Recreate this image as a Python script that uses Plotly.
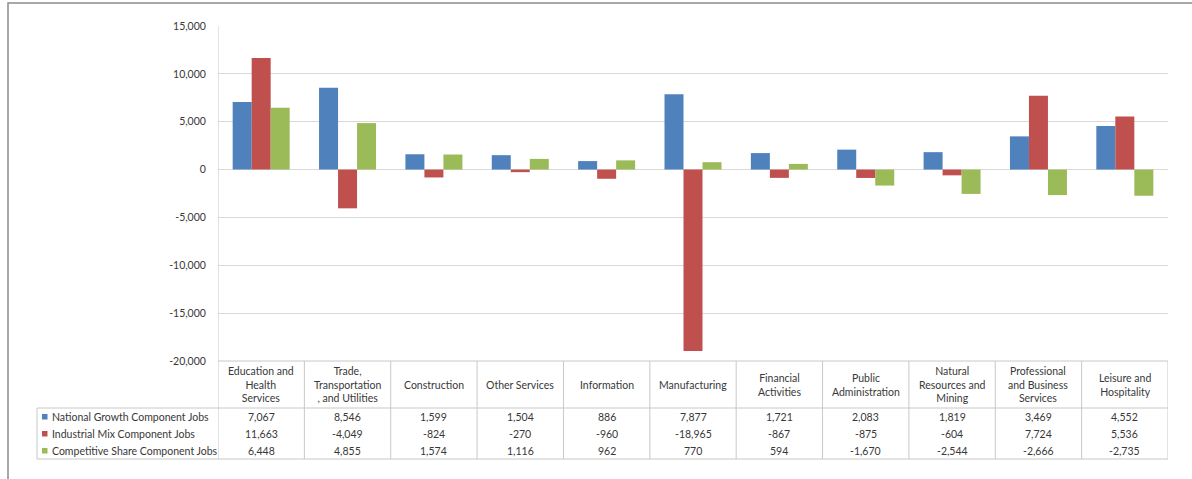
import plotly.graph_objects as go

# Shift-share components of job change by industry
industries = [
    "Education and<br>Health<br>Services",
    "Trade,<br>Transportation<br>, and Utilities",
    "Construction",
    "Other Services",
    "Information",
    "Manufacturing",
    "Financial<br>Activities",
    "Public<br>Administration",
    "Natural<br>Resources and<br>Mining",
    "Professional<br>and Business<br>Services",
    "Leisure and<br>Hospitality",
]
national_growth = [7067, 8546, 1599, 1504, 886, 7877, 1721, 2083, 1819, 3469, 4552]
industrial_mix = [11663, -4049, -824, -270, -960, -18965, -867, -875, -604, 7724, 5536]
competitive_share = [6448, 4855, 1574, 1116, 962, 770, 594, -1670, -2544, -2666, -2735]

series_names = [
    "National Growth Component Jobs",
    "Industrial Mix Component Jobs",
    "Competitive Share Component Jobs",
]
series_values = [national_growth, industrial_mix, competitive_share]
series_colors = ["#4F81BD", "#C0504D", "#9BBB59"]

y_ticks = [15000, 10000, 5000, 0, -5000, -10000, -15000, -20000]

W, H = 1192, 479
FONT = "Lato"
TEXT = "#383838"
LINE = "#c8c8c8"

def px_x(p):
    return p / W

def px_y(p):
    return 1 - p / H

# plot area in pixels
PL, PR, PT, PB = 218, 1168, 26, 361
TABLE_HEAD_BOTTOM = 408
TABLE_BOTTOM = 459
LEGEND_LEFT = 37
ROW_CENTERS = [416.5, 433.5, 450.5]

keys = list(range(len(industries)))

fig = go.Figure()
for name, vals, col in zip(series_names, series_values, series_colors):
    fig.add_trace(go.Bar(x=keys, y=vals, name=name, marker=dict(color=col, line=dict(width=0))))

shapes = []
annotations = []

# outer chart frame (runs off the right and bottom edges)
shapes.append(dict(type="rect", xref="paper", yref="paper",
                   x0=px_x(8), x1=px_x(1200), y0=px_y(490), y1=px_y(3),
                   line=dict(color="#8c8c8c", width=1.5), fillcolor="rgba(0,0,0,0)"))

# data table: vertical separators between categories
for k in range(len(industries) + 1):
    shapes.append(dict(type="line", xref="x", yref="paper",
                       x0=k - 0.5, x1=k - 0.5, y0=px_y(TABLE_BOTTOM), y1=px_y(PB),
                       line=dict(color=LINE, width=1)))
# left axis line up through the plot
shapes.append(dict(type="line", xref="x", yref="paper", x0=-0.5, x1=-0.5,
                   y0=px_y(PB), y1=px_y(PT), line=dict(color=LINE, width=1)))
# horizontal table lines
shapes.append(dict(type="line", xref="x", yref="paper", x0=-0.5, x1=len(industries) - 0.5,
                   y0=px_y(PB), y1=px_y(PB), line=dict(color=LINE, width=1)))
for yy in (TABLE_HEAD_BOTTOM, TABLE_BOTTOM):
    shapes.append(dict(type="line", xref="paper", yref="paper", x0=px_x(LEGEND_LEFT), x1=px_x(PR),
                       y0=px_y(yy), y1=px_y(yy), line=dict(color=LINE, width=1)))
shapes.append(dict(type="line", xref="paper", yref="paper", x0=px_x(LEGEND_LEFT), x1=px_x(LEGEND_LEFT),
                   y0=px_y(TABLE_BOTTOM), y1=px_y(TABLE_HEAD_BOTTOM), line=dict(color=LINE, width=1)))

# category header cells
for k, label in enumerate(industries):
    annotations.append(dict(x=k, y=px_y((PB + TABLE_HEAD_BOTTOM) / 2), xref="x", yref="paper",
                            text=label, showarrow=False, xanchor="center", yanchor="middle",
                            align="center", font=dict(family=FONT, size=10.5, color=TEXT)))

# legend keys, series names and values
for r, (name, vals, col) in enumerate(zip(series_names, series_values, series_colors)):
    yc = ROW_CENTERS[r]
    shapes.append(dict(type="rect", xref="paper", yref="paper",
                       x0=px_x(42), x1=px_x(47.5), y0=px_y(yc + 3), y1=px_y(yc - 2.5),
                       fillcolor=col, line=dict(width=0)))
    annotations.append(dict(x=px_x(49.5), y=px_y(yc), xref="paper", yref="paper", text=name,
                            showarrow=False, xanchor="left", yanchor="middle",
                            font=dict(family=FONT, size=10.5, color=TEXT)))
    for k, v in enumerate(vals):
        annotations.append(dict(x=k, y=px_y(yc), xref="x", yref="paper", text=f"{v:,}",
                                showarrow=False, xanchor="center", yanchor="middle",
                                font=dict(family=FONT, size=10.5, color=TEXT)))

fig.update_layout(
    width=W, height=H,
    margin=dict(l=0, r=0, t=0, b=0, autoexpand=False),
    paper_bgcolor="white", plot_bgcolor="white",
    barmode="group", bargap=0.34, bargroupgap=0,
    showlegend=False,
    font=dict(family=FONT, size=10.5, color=TEXT),
    xaxis=dict(domain=[px_x(PL), px_x(PR)], range=[-0.5, len(industries) - 0.5],
               automargin=False,
               showticklabels=False, showgrid=False, zeroline=False, showline=False, ticks=""),
    yaxis=dict(domain=[px_y(PB), px_y(PT)], range=[-20000, 15000],
               automargin=False,
               tickvals=y_ticks, ticktext=[f"{t:,}" for t in y_ticks],
               showgrid=True, gridcolor="#d9d9d9", gridwidth=1,
               zeroline=True, zerolinecolor="#d9d9d9", zerolinewidth=1,
               showline=False, ticks="outside", ticklen=9, tickcolor="rgba(0,0,0,0)",
               tickfont=dict(family=FONT, size=10.5, color=TEXT)),
    shapes=shapes,
    annotations=annotations,
)

fig.write_html("out.html")
